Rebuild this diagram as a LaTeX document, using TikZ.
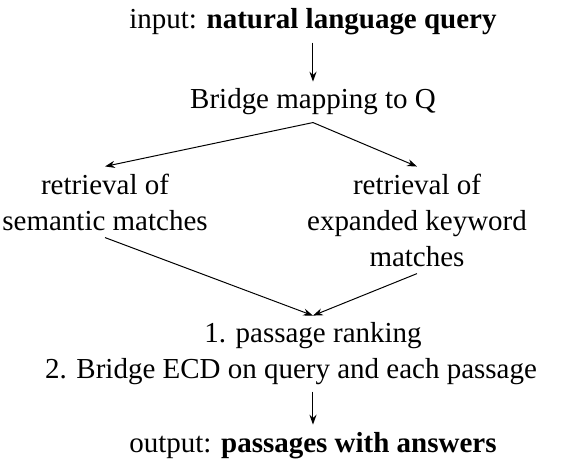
\documentclass[tikz,border=0pt]{standalone}
\usepackage{fontspec}
\setmainfont{Liberation Serif}
\usepackage{tikz}
\usetikzlibrary{arrows.meta,calc}

\begin{document}
\begin{tikzpicture}[
    txt/.style={font=\fontsize{14.7pt}{18.2pt}\selectfont, inner sep=3.5pt, anchor=base, align=center},
    arr/.style={-{Stealth[length=5pt,width=3.6pt]}, line width=0.5pt}
  ]
    \useasboundingbox (0,0) rectangle (10,8.182);
    % query in
    \node[txt] (in) at (5.579,7.665) {input: \textbf{natural language query}};
    \node[txt] (map) at (5.579,6.239) {Bridge mapping to Q};
    \draw[arr] (in) -- (map);

    % the two retrieval branches (base = last line)
    \node[txt] (sem) at (1.872,4.082) {retrieval of\\semantic matches};
    \node[txt] (kw) at (7.433,3.440) {retrieval of\\expanded keyword\\matches};
    \draw[arr] (map.south) -- (sem.north);
    \draw[arr] (map.south) -- (kw.north);

    % ranking and ECD
    \node[txt] (rank) at (5.579,2.068) {1. passage ranking};
    \node[txt] (ecd) at (5.187,1.444) {2. Bridge ECD on query and each passage};
    \draw[arr] (sem.south) -- (rank.north);
    \draw[arr] (kw.south) -- (rank.north);

    % answers out
    \node[txt] (out) at (5.579,0.125) {output: \textbf{passages with answers}};
    \draw[arr] (rank |- ecd.south) -- (out.north);
\end{tikzpicture}
\end{document}
